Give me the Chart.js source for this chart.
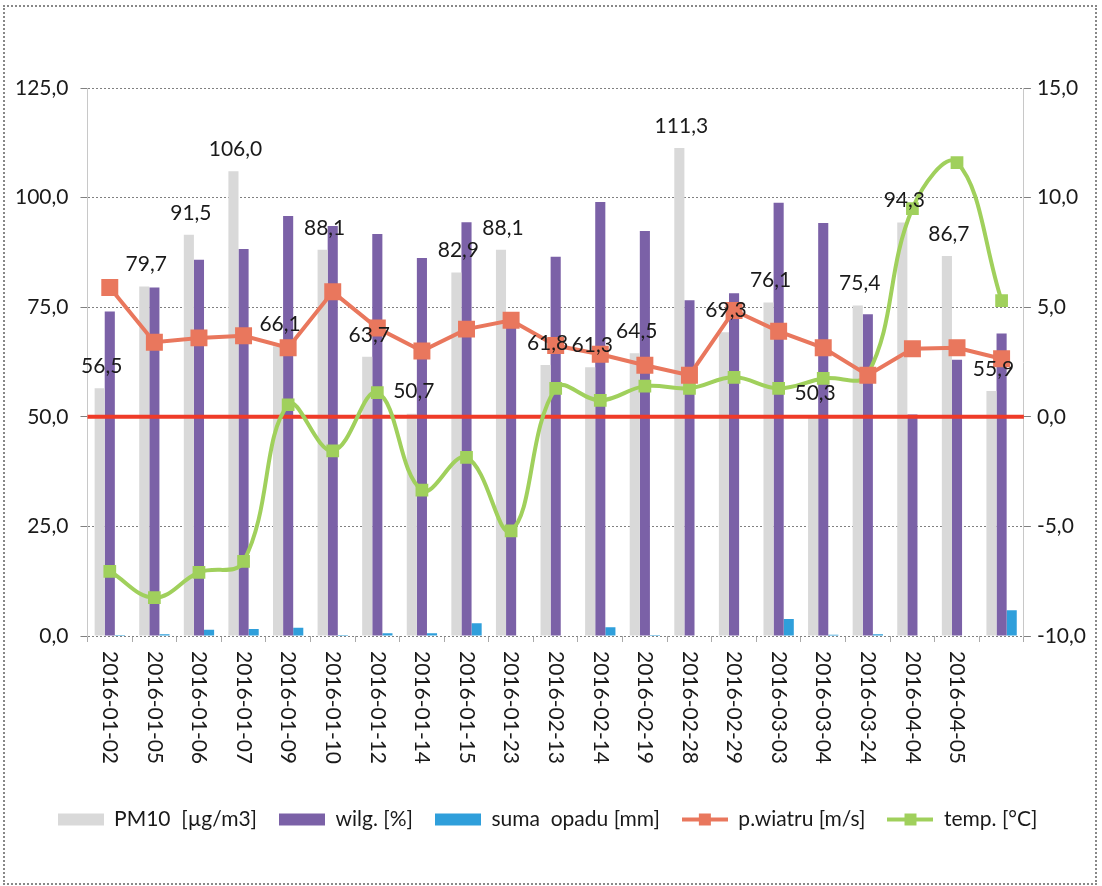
<!DOCTYPE html>
<html>
<head>
<meta charset="utf-8">
<script src="https://cdn.jsdelivr.net/npm/chart.js@4.4.1/dist/chart.umd.min.js"></script>
<style>
  body { margin: 0; background: #fff; }
  #wrap { position: relative; width: 1102px; height: 886px; }
  #frame { position: absolute; left: 3px; top: 5px; width: 1090px; height: 876px; border: 2px dotted #888; pointer-events: none; }
</style>
</head>
<body>
<div id="wrap">
  <canvas id="chart" width="1102" height="886"></canvas>
  <div id="frame"></div>
</div>
<script>
// category labels (last group has no label in the original)
const dates = ["2016-01-02", "2016-01-05", "2016-01-06", "2016-01-07", "2016-01-09", "2016-01-10",
  "2016-01-12", "2016-01-14", "2016-01-15", "2016-01-23", "2016-02-13", "2016-02-14", "2016-02-19",
  "2016-02-28", "2016-02-29", "2016-03-03", "2016-03-04", "2016-03-24", "2016-04-04", "2016-04-05", ""];

// left axis series
const pm10 = [56.5, 79.7, 91.5, 106.0, 66.1, 88.1, 63.7, 50.7, 82.9, 88.1, 61.8, 61.3, 64.5, 111.3, 69.3, 76.1, 50.3, 75.4, 94.3, 86.7, 55.9];
const wilg = [74, 79.5, 85.8, 88.3, 95.8, 93.5, 91.7, 86.2, 94.4, 71, 86.5, 99, 92.4, 76.6, 78.2, 98.8, 94.2, 73.4, 50.5, 63, 69];
const opad = [0.2, 0.4, 1.4, 1.6, 1.9, 0.2, 0.6, 0.6, 2.9, 0, 0, 2.0, 0.2, 0, 0, 3.9, 0.3, 0.4, 0, 0, 5.9];

// right axis series
const wiatr = [5.9, 3.4, 3.6, 3.7, 3.15, 5.7, 4.05, 3.0, 4.0, 4.4, 3.25, 2.85, 2.35, 1.9, 4.85, 3.9, 3.15, 1.9, 3.1, 3.15, 2.65];
const temp = [-7.05, -8.25, -7.1, -6.6, 0.55, -1.55, 1.1, -3.35, -1.85, -5.2, 1.3, 0.75, 1.4, 1.3, 1.8, 1.3, 1.75, 1.95, 9.5, 11.6, 5.3];

// tick settings
const leftTicks = { min: 0, max: 125, step: 25 };
const rightTicks = { min: -10, max: 15, step: 5 };
const zeroTemp = 0;

const FONT = "Lato, 'Open Sans', sans-serif";
const fmt = v => v.toFixed(1).replace(".", ",");

function legendIcon(kind, color) {
    const c = document.createElement("canvas");
    c.width = 46;
    c.height = 16;
    const g = c.getContext("2d");
    g.fillStyle = color;
    if (kind == "bar") {
        g.fillRect(0, 2, 46, 12);
    } else {
        g.strokeStyle = color;
        g.lineWidth = 4;
        g.beginPath();
        g.moveTo(0, 8);
        g.lineTo(46, 8);
        g.stroke();
        g.fillRect(17, 2, 12, 12);
    }
    return c;
}

const legendIcons = [
    legendIcon("bar", "#d9d9d9"),
    legendIcon("bar", "#7b61a7"),
    legendIcon("bar", "#2f9fdb"),
    legendIcon("line", "#e9775d"),
    legendIcon("line", "#a0d05c")
];

// red horizontal line at 0 °C, drawn right after the bars
const zeroLine = {
    id: "zeroLine",
    afterDatasetDraw(chart, args) {
        if (args.index != 0) return;
        const ctx = chart.ctx;
        const area = chart.chartArea;
        const y = chart.scales.y1.getPixelForValue(zeroTemp);
        ctx.save();
        ctx.strokeStyle = "#ef3b28";
        ctx.lineWidth = 4;
        ctx.beginPath();
        ctx.moveTo(area.left, y);
        ctx.lineTo(area.right, y);
        ctx.stroke();
        ctx.restore();
    }
};

// PM10 value labels above grey bars
const pmLabels = {
    id: "pmLabels",
    afterDatasetsDraw(chart) {
        const ctx = chart.ctx;
        const meta = chart.getDatasetMeta(0);
        ctx.save();
        ctx.font = "21px " + FONT;
        ctx.fillStyle = "#1a1a1a";
        ctx.textAlign = "center";
        ctx.textBaseline = "middle";
        meta.data.forEach((bar, i) => {
            ctx.fillText(fmt(pm10[i]), bar.x + 2, bar.y - 22);
        });
        ctx.restore();
    }
};

// date labels, rotated to read top to bottom
const dateLabels = {
    id: "dateLabels",
    afterDraw(chart) {
        const ctx = chart.ctx;
        const xs = chart.scales.x;
        ctx.save();
        ctx.font = "21px " + FONT;
        ctx.fillStyle = "#1a1a1a";
        ctx.textAlign = "left";
        ctx.textBaseline = "middle";
        dates.forEach((d, i) => {
            if (!d) return;
            ctx.save();
            ctx.translate(xs.getPixelForValue(i), chart.chartArea.bottom + 15);
            ctx.rotate(Math.PI / 2);
            ctx.fillText(d, 0, 0);
            ctx.restore();
        });
        ctx.restore();
    }
};

let ctx = document.getElementById("chart").getContext("2d");

let chart = new Chart(ctx, {
    type: "bar",
    data: {
        labels: dates,
        datasets: [
            { label: "PM10  [µg/m3]", data: pm10, backgroundColor: "#d9d9d9", yAxisID: "y", order: 2 },
            { label: "wilg. [%]", data: wilg, backgroundColor: "#7b61a7", yAxisID: "y", order: 2 },
            { label: "suma  opadu [mm]", data: opad, backgroundColor: "#2f9fdb", yAxisID: "y", order: 2 },
            {
                type: "line", label: "p.wiatru [m/s]", data: wiatr, yAxisID: "y1", order: 1,
                borderColor: "#e9775d", backgroundColor: "#e9775d", borderWidth: 4,
                pointStyle: "rect", pointRadius: 12, pointBackgroundColor: "#e9775d", pointBorderWidth: 0,
                tension: 0
            },
            {
                type: "line", label: "temp. [°C]", data: temp, yAxisID: "y1", order: 1,
                borderColor: "#a0d05c", backgroundColor: "#a0d05c", borderWidth: 4,
                pointStyle: "rect", pointRadius: 9, pointBackgroundColor: "#a0d05c", pointBorderWidth: 0,
                tension: 0.4
            }
        ]
    },
    options: {
        responsive: false,
        animation: false,
        devicePixelRatio: 1,
        layout: { padding: { left: 3, right: 10, top: 88, bottom: 46 } },
        datasets: {
            bar: { categoryPercentage: 0.68, barPercentage: 1 }
        },
        scales: {
            x: {
                offset: true,
                grid: { display: true, drawOnChartArea: false, tickLength: 6, color: "#aaa" },
                border: { display: false },
                ticks: { display: false },
                title: { display: true, text: "", font: { size: 10 }, padding: { top: 0, bottom: 133 } }
            },
            y: {
                position: "left",
                min: leftTicks.min,
                max: leftTicks.max,
                grid: { color: "#808080", tickLength: 7 },
                border: { color: "#c8c8c8", dash: [2, 2] },
                ticks: {
                    stepSize: leftTicks.step,
                    padding: 12,
                    color: "#1a1a1a",
                    font: { family: FONT, size: 21 },
                    callback: v => fmt(v)
                }
            },
            y1: {
                position: "right",
                min: rightTicks.min,
                max: rightTicks.max,
                grid: { drawOnChartArea: false, color: "#808080", tickLength: 7 },
                border: { color: "#c8c8c8" },
                ticks: {
                    stepSize: rightTicks.step,
                    padding: 6,
                    color: "#1a1a1a",
                    font: { family: FONT, size: 21 },
                    callback: v => fmt(v)
                }
            }
        },
        plugins: {
            tooltip: { enabled: false },
            legend: {
                position: "bottom",
                labels: {
                    usePointStyle: true,
                    pointStyleWidth: 46,
                    boxHeight: 12,
                    padding: 22,
                    color: "#1a1a1a",
                    font: { family: FONT, size: 21 },
                    sort: (a, b) => a.datasetIndex - b.datasetIndex,
                    generateLabels: c => Chart.defaults.plugins.legend.labels.generateLabels(c).map(item => {
                        item.pointStyle = legendIcons[item.datasetIndex];
                        return item;
                    })
                }
            }
        }
    },
    plugins: [zeroLine, pmLabels, dateLabels]
});
</script>
</body>
</html>
